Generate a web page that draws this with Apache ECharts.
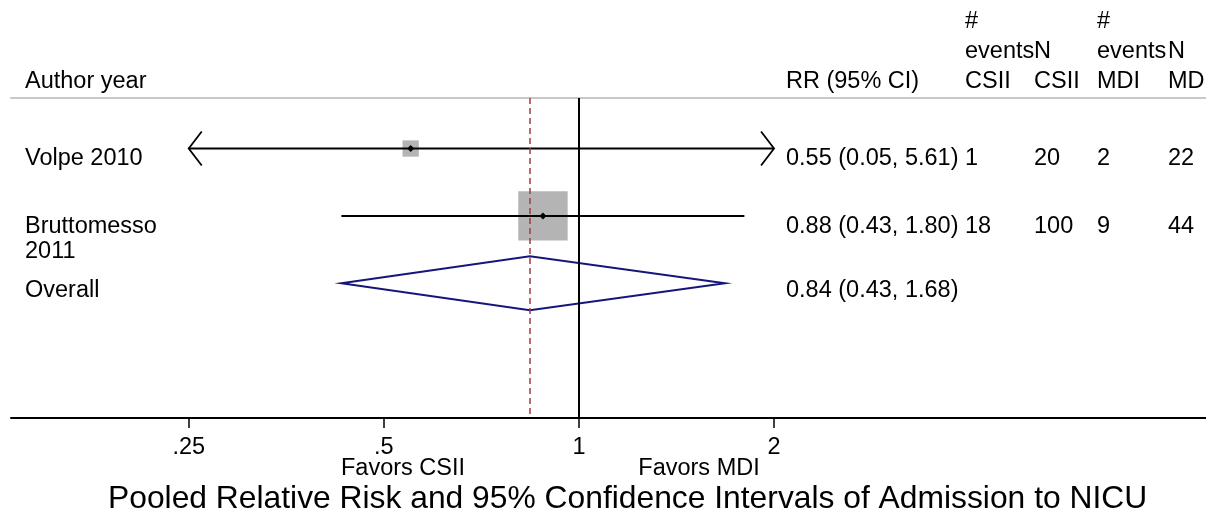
<!DOCTYPE html>
<html><head><meta charset="utf-8">
<script src="https://cdn.jsdelivr.net/npm/echarts@6/dist/echarts.min.js"></script>
<style>html,body{margin:0;padding:0;background:#fff}#c{width:1206px;height:514px}</style>
</head><body><div id="c"></div>
<script>
// ---------------- data ----------------
const studyLabels = ['Volpe 2010', 'Bruttomesso\n2011'];
const rr = [0.55, 0.88];
const ciLow = [0.05, 0.43];
const ciHigh = [5.61, 1.80];
const weights = [9.8, 90.2];
const eventsCSII = [1, 18];
const nCSII = [20, 100];
const eventsMDI = [2, 9];
const nMDI = [22, 44];
const overallLabel = 'Overall';
const overall = [0.84, 0.43, 1.68]; // RR, low, high
const tickValues = [0.25, 0.5, 1, 2];
const tickLabels = ['.25', '.5', '1', '2'];
const headerLabels = ['Author year', 'RR (95% CI)', '#\nevents\nCSII', 'N\nCSII', '#\nevents\nMDI', 'N\nMDI'];
const favorsLabels = ['Favors CSII', 'Favors MDI'];
const titleText = 'Pooled Relative Risk and 95% Confidence Intervals of Admission to NICU';

// ---------------- layout / style ----------------
const FONTFAM = '"Liberation Sans", Arial, Helvetica, sans-serif';
const FS = 23.5;
const colX = [25, 786, 965, 1034, 1097, 1168];
const l2 = Math.log2;
const clipLo = tickValues[0], clipHi = tickValues[tickValues.length - 1];
const tickLog = tickValues.map(l2);
const SQ_K = 5.2;
const mid = (baseline, fs) => baseline - 0.3465 * fs;

function txt(x, y, text, fs, align) {
  return { type: 'text', x: x, y: y, silent: true,
    style: { text: text, fill: '#000', fontSize: fs, fontFamily: FONTFAM, align: align || 'left', verticalAlign: 'middle' } };
}

const fmt = v => v.toFixed(2);
const rrText = rr.map((v, i) => fmt(v) + ' (' + fmt(ciLow[i]) + ', ' + fmt(ciHigh[i]) + ')');
const overallText = fmt(overall[0]) + ' (' + fmt(overall[1]) + ', ' + fmt(overall[2]) + ')';

// header & static texts
const graphics = [];
headerLabels.forEach((h, c) => {
  const lines = h.split('\n');
  lines.forEach((ln, j) => {
    const base = 90 - (lines.length - 1 - j) * 30;
    graphics.push(txt(colX[c], mid(base, FS), ln, FS));
  });
});
graphics.push(txt(403, mid(477, FS), favorsLabels[0], FS, 'center'));
graphics.push(txt(699, mid(477, FS), favorsLabels[1], FS, 'center'));
graphics.push(txt(108, mid(510, 31.8), titleText, 31.8));

const chart = echarts.init(document.getElementById('c'), null, { renderer: 'canvas' });

const xMin = -2.911, xMax = 3.214;

chart.setOption({
  animation: false,
  backgroundColor: '#fff',
  grid: { left: 11, right: 0, top: 98, bottom: 96, containLabel: false },
  xAxis: [{
    type: 'value', min: xMin, max: xMax, position: 'bottom',
    splitLine: { show: false },
    axisLine: { show: true, lineStyle: { color: '#000', width: 2 } },
    axisTick: { show: true, length: 10, lineStyle: { color: '#000', width: 1.5 }, customValues: tickLog },
    axisLabel: {
      show: true, customValues: tickLog, margin: 18, fontSize: FS, lineHeight: 23, color: '#000', fontFamily: FONTFAM,
      formatter: v => { const k = tickLog.findIndex(t => Math.abs(t - v) < 1e-6); return k >= 0 ? tickLabels[k] : ''; }
    }
  }, {
    type: 'value', min: xMin, max: xMax, position: 'top',
    splitLine: { show: false },
    axisLine: { show: true, lineStyle: { color: '#c8c8c8', width: 2 } },
    axisTick: { show: false }, axisLabel: { show: false }
  }],
  yAxis: { type: 'value', min: 0.25, max: 5, inverse: true, show: false },
  graphic: graphics,
  series: [
    {
      type: 'line', data: [], z: 1, silent: true,
      markLine: {
        symbol: 'none', silent: true, animation: false, label: { show: false },
        data: [
          { xAxis: l2(1), lineStyle: { color: '#000', width: 2, type: 'solid' } },
          { xAxis: l2(overall[0]), lineStyle: { color: '#9e3a45', width: 1.5, type: [6, 4] } }
        ]
      }
    },
    {
      type: 'custom', z: 3, silent: true,
      data: rr.map((_, i) => [i]),
      renderItem: (params, api) => {
        const i = api.value(0);
        const row = i + 1;
        const y = api.coord([0, row])[1];
        const xl = api.coord([l2(Math.max(ciLow[i], clipLo)), row])[0];
        const xh = api.coord([l2(Math.min(ciHigh[i], clipHi)), row])[0];
        const xp = api.coord([l2(rr[i]), row])[0];
        const side = SQ_K * Math.sqrt(weights[i]);
        const ch = [
          { type: 'rect', shape: { x: xp - side / 2, y: y - side / 2, width: side, height: side }, style: { fill: '#b4b4b4' } },
          { type: 'line', shape: { x1: xl, y1: y, x2: xh, y2: y }, style: { stroke: '#000', lineWidth: 2 } },
          { type: 'polygon', shape: { points: [[xp - 3.5, y], [xp, y - 3.5], [xp + 3.5, y], [xp, y + 3.5]] }, style: { fill: '#000' } }
        ];
        if (ciLow[i] < clipLo) ch.push({ type: 'polyline', shape: { points: [[xl + 13, y - 17], [xl, y], [xl + 13, y + 17]] }, style: { stroke: '#000', lineWidth: 1.8, fill: null } });
        if (ciHigh[i] > clipHi) ch.push({ type: 'polyline', shape: { points: [[xh - 13, y - 17], [xh, y], [xh - 13, y + 17]] }, style: { stroke: '#000', lineWidth: 1.8, fill: null } });
        return { type: 'group', children: ch };
      }
    },
    {
      type: 'custom', z: 3, silent: true,
      data: [[0]],
      renderItem: (params, api) => {
        const row = rr.length + 1;
        const y = api.coord([0, row])[1];
        const xc = api.coord([l2(overall[0]), row])[0];
        const xl = api.coord([l2(overall[1]), row])[0];
        const xh = api.coord([l2(overall[2]), row])[0];
        const hh = 27;
        return { type: 'polygon', shape: { points: [[xl, y], [xc, y - hh], [xh, y], [xc, y + hh]] },
          style: { stroke: '#16167a', lineWidth: 2, fill: null } };
      }
    },
    {
      type: 'custom', z: 4, silent: true,
      data: [0, 1, 2].map(i => [i]),
      renderItem: (params, api) => {
        const i = api.value(0);
        const row = i + 1;
        const y = api.coord([0, row])[1];
        const ch = [];
        if (i < rr.length) {
          const base = y + 18.4;
          studyLabels[i].split('\n').forEach((ln, j) => ch.push(txt(colX[0], mid(base + j * 25, FS), ln, FS)));
          const vals = [rrText[i], String(eventsCSII[i]), String(nCSII[i]), String(eventsMDI[i]), String(nMDI[i])];
          vals.forEach((v, c) => ch.push(txt(colX[c + 1], mid(base, FS), v, FS)));
        } else {
          const base = y + 15.5;
          ch.push(txt(colX[0], mid(base, FS), overallLabel, FS));
          ch.push(txt(colX[1], mid(base, FS), overallText, FS));
        }
        return { type: 'group', children: ch };
      }
    }
  ]
});
</script>
</body></html>
